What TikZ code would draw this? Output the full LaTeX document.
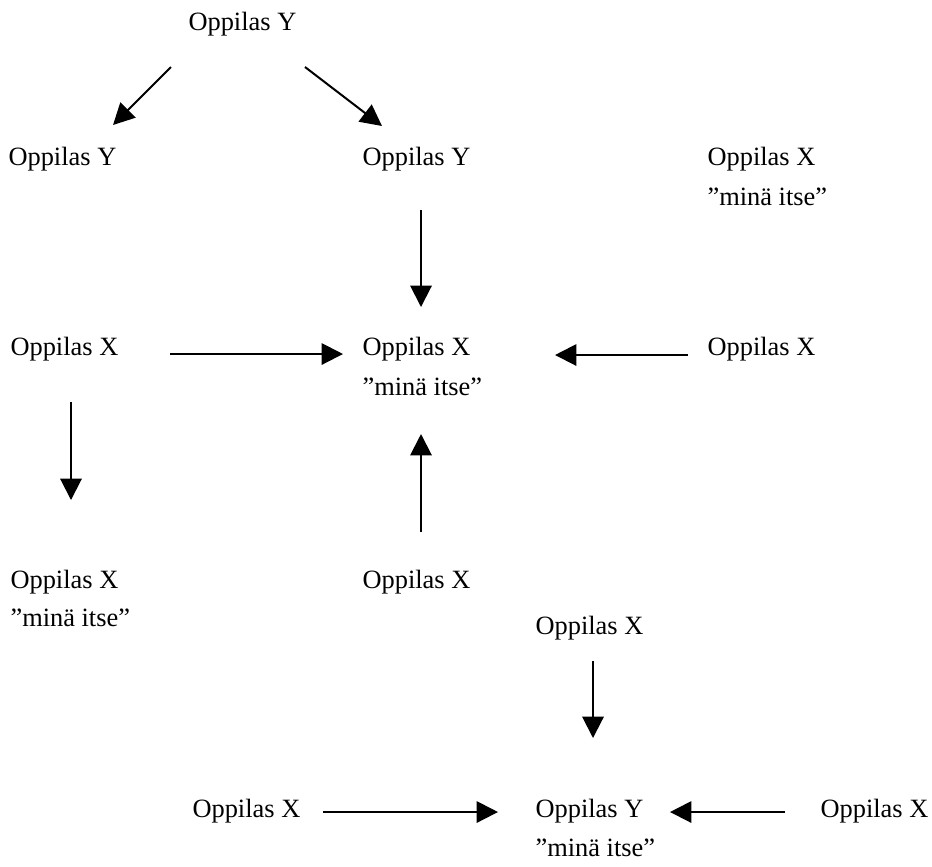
\documentclass[tikz,border=0pt]{standalone}
\usepackage{fontspec}
\setmainfont{Liberation Serif}
\usetikzlibrary{arrows.meta, calc}

\begin{document}
\begin{tikzpicture}[x=0.375pt, y=-0.375pt,
    lbl/.style={anchor=base west, inner sep=0pt, font=\fontsize{9.9pt}{12pt}\selectfont},
    arr/.style={-{Triangle[length=8pt,width=8pt]}, line width=0.75pt}]
  \useasboundingbox (0,0) rectangle (932,866);
  % --- top and second row ---
  \node[lbl] (yTop) at (188,30) {Oppilas Y};
  \node[lbl] (yL) at (8,165) {Oppilas Y};
  \node[lbl] (yM) at (362,165) {Oppilas Y};
  \node[lbl] (xR1) at (707,165) {Oppilas X};
  \node[lbl] (sR1) at (707,205) {”minä itse”};
  \draw[arr] ([shift={(-17,37)}]yTop.base west) -- ([shift={(105,-40)}]yL.base west);
  \draw[arr] ([shift={(117,37)}]yTop.base west) -- ([shift={(20,-39)}]yM.base west);
  % --- middle row ---
  \node[lbl] (xL) at (10,355) {Oppilas X};
  \node[lbl] (xM) at (362,355) {Oppilas X};
  \node[lbl] (sM) at (362,395) {”minä itse”};
  \node[lbl] (xR) at (707,355) {Oppilas X};
  \draw[arr] ([shift={(59,45)}]yM.base west) -- ([shift={(59,-48)}]xM.base west);
  \draw[arr] ([shift={(160,-1)}]xL.base west) -- ([shift={(-19,-1)}]xM.base west);
  \draw[arr] ([shift={(-19,0)}]xR.base west) -- ([shift={(193,0)}]xM.base west);
  % --- fourth and fifth row ---
  \node[lbl] (xL2) at (10,588) {Oppilas X};
  \node[lbl] (sL2) at (10,626) {”minä itse”};
  \node[lbl] (xM2) at (362,588) {Oppilas X};
  \node[lbl] (xC) at (535,634) {Oppilas X};
  \draw[arr] ([shift={(61,47)}]xL.base west) -- ([shift={(61,-88)}]xL2.base west);
  \draw[arr] ([shift={(59,-56)}]xM2.base west) -- ([shift={(59,39)}]sM.base west);
  % --- bottom row ---
  \node[lbl] (xB1) at (192,817) {Oppilas X};
  \node[lbl] (yB) at (535,817) {Oppilas Y};
  \node[lbl] (sB) at (535,856) {”minä itse”};
  \node[lbl] (xB2) at (820,817) {Oppilas X};
  \draw[arr] ([shift={(58,27)}]xC.base west) -- ([shift={(58,-79)}]yB.base west);
  \draw[arr] ([shift={(131,-5)}]xB1.base west) -- ([shift={(-37,-5)}]yB.base west);
  \draw[arr] ([shift={(-35,-5)}]xB2.base west) -- ([shift={(135,-5)}]yB.base west);
\end{tikzpicture}
\end{document}
